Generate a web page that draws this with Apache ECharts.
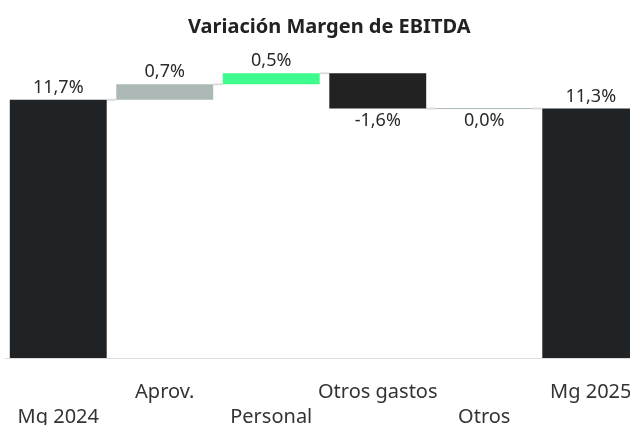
<!DOCTYPE html>
<html>
<head>
<meta charset="utf-8">
<script src="https://cdn.jsdelivr.net/npm/echarts@6/dist/echarts.min.js"></script>
<style>
  html, body { margin: 0; padding: 0; background: #fff; }
  #chart { width: 630px; height: 425px; }
</style>
</head>
<body>
<div id="chart"></div>
<script>
// datos del puente de margen
const categories = ['Mg 2024', 'Aprov.', 'Personal', 'Otros gastos', 'Otros', 'Mg 2025']
const values = [11.7, 0.7, 0.5, -1.6, 0.0, 11.3]
const isTotal = [true, false, false, false, false, true]
const colors = ['#1f2325', '#abb8b6', '#3dfb8c', '#222222', '#abb8b6', '#1f2325']

const BAR_RATIO = 0.91

// base invisible + altura de cada barra
const base = []
const height = []
const level = [] // nivel final de cada paso
let run = 0
values.forEach((v, i) => {
  if (isTotal[i]) {
    base.push(0)
    height.push(v)
    run = v
  } else {
    base.push(v >= 0 ? run : run + v)
    height.push(Math.abs(v))
    run = run + v
  }
  level.push(isTotal[i] ? v : run)
})

const fmt = v => v.toFixed(1).replace('.', ',') + '%'

const chart = echarts.init(document.getElementById('chart'))

chart.setOption({
  animation: false,
  title: {
    text: 'Variación Margen de EBITDA',
    left: 183,
    top: 12,
    textStyle: {fontFamily: 'Noto Sans', fontSize: 20, fontWeight: 'bold', color: '#222'}
  },
  grid: {left: 5, right: -14, top: 49, bottom: 67, outerBoundsMode: 'none'},
  xAxis: {
    type: 'category',
    data: categories,
    axisLine: {lineStyle: {color: '#dcdcdc', width: 1}},
    axisTick: {show: false},
    splitLine: {show: false},
    axisLabel: {
      interval: 0,
      margin: 22,
      fontFamily: 'Noto Sans',
      fontSize: 20,
      color: '#333',
      lineHeight: 25,
      hideOverlap: false,
      formatter: (val, idx) => (idx % 2 === 0 ? '\n' + val : val)
    }
  },
  yAxis: {
    type: 'value', min: 0, max: 14, show: false,
    axisLine: {show: false}, splitLine: {show: false}
  },
  series: [
    {
      type: 'bar',
      stack: 'w',
      data: base,
      barWidth: BAR_RATIO * 100 + '%',
      itemStyle: {color: 'rgba(0,0,0,0)', borderWidth: 0},
      silent: true
    },
    {
      type: 'bar',
      stack: 'w',
      data: height.map((h, i) => ({
        value: h,
        itemStyle: {color: colors[i]},
        label: {position: values[i] < 0 || (values[i] === 0 && !isTotal[i]) ? 'bottom' : 'top'}
      })),
      label: {
        show: true,
        distance: 3,
        fontFamily: 'Noto Sans',
        fontSize: 18,
        color: '#2a2a2a',
        formatter: p => fmt(values[p.dataIndex])
      }
    },
    {
      // conectores entre barras
      type: 'custom',
      silent: true,
      data: level.map((l, i) => [i, l]),
      renderItem: (params, api) => {
        const i = api.value(0)
        const lv = api.value(1)
        const w = api.size([1, 0])[0]
        const half = w * BAR_RATIO / 2
        const p = api.coord([i, lv])
        const children = []
        if (values[i] === 0 && !isTotal[i]) {
          children.push({
            type: 'line',
            shape: {x1: p[0] - half, y1: p[1], x2: p[0] + half, y2: p[1]},
            style: {stroke: colors[i], lineWidth: 1}
          })
        }
        if (i < categories.length - 1) {
          children.push({
            type: 'line',
            shape: {x1: p[0] + half, y1: p[1], x2: p[0] + w - half, y2: p[1]},
            style: {stroke: '#dcdcdc', lineWidth: 2}
          })
        }
        return {type: 'group', children}
      }
    }
  ]
})
</script>
</body>
</html>
